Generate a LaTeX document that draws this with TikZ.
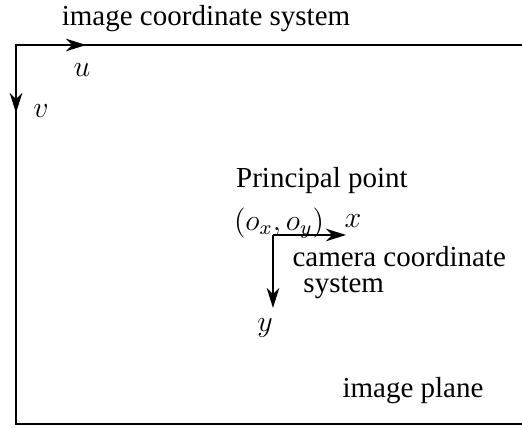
\documentclass[tikz,border=0pt]{standalone}
\usepackage[no-math]{fontspec}
\setmainfont{Liberation Serif}
\usetikzlibrary{arrows.meta}
\tikzset{
    axis/.style={line width=1pt, -{Stealth[length=8pt,width=5pt,inset=2.4pt]}},
    txt/.style={inner sep=0pt, anchor=base},
}
\begin{document}
\begin{tikzpicture}[x=0.4pt,y=0.4pt,font=\fontsize{11.6}{13}\selectfont]
            \useasboundingbox (0,0) rectangle (522,428);
            \clip (0,0) rectangle (522,428);
            \draw [line width=1pt] (16,4) rectangle (600,383);
            \coordinate (imgO) at (16,383);
            \coordinate (uEnd) at (86,383);
            \coordinate (vEnd) at (16,315);
            \draw [axis] (imgO)--(uEnd);
            \draw [axis] (imgO)--(vEnd);
            \node (u) at(82,358) {$u$};
            \node (v) at(41,317) {$v$};
            \node [txt] (title) at(206,403) {image coordinate system};
            \coordinate (camO) at (273,193);
            \coordinate (xEnd) at (346,193);
            \coordinate (yEnd) at (273,120);
            \draw [axis] (camO)--(xEnd);
            \draw [axis] (camO)--(yEnd);
            \node [txt] (pp) at(322,240) {Principal point};
            \node (oxy) at(279,205) {$(o_x,o_y)$};
            \node (x) at(353,207) {$x$};
            \node (y) at(265,100) {$y$};
            \node [txt,anchor=base west] (cam) at(292,161) {camera coordinate};
            \node [txt,anchor=base west] (sys) at(303,135) {system};
            \node [txt] (plane) at(413,30) {image plane};
        \end{tikzpicture}
\end{document}
